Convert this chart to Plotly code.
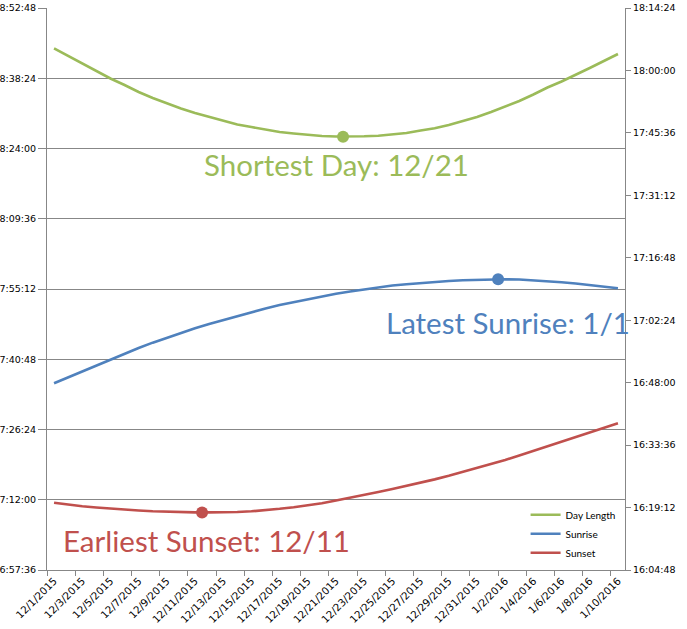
import pandas as pd
import plotly.graph_objects as go

# ---- data ----
dates = pd.date_range("2015-12-01", "2016-01-10", freq="D")

day_length = [
    "8:44:32", "8:42:58", "8:41:25", "8:39:53", "8:38:21", "8:37:01", "8:35:35", "8:34:21",
    "8:33:13", "8:32:12", "8:31:17", "8:30:27", "8:29:38", "8:28:55", "8:28:24", "8:27:54",
    "8:27:23", "8:27:04", "8:26:46", "8:26:33", "8:26:27", "8:26:25", "8:26:30", "8:26:37",
    "8:26:52", "8:27:11", "8:27:41", "8:28:08", "8:28:49", "8:29:34", "8:30:27", "8:31:29",
    "8:32:37", "8:33:44", "8:35:04", "8:36:30", "8:37:44", "8:39:04", "8:40:30", "8:41:56",
    "8:43:22",
]
sunrise = [
    "7:35:52", "7:37:04", "7:38:21", "7:39:31", "7:40:45", "7:41:59", "7:43:06", "7:44:12",
    "7:45:12", "7:46:11", "7:47:09", "7:48:02", "7:48:51", "7:49:40", "7:50:27", "7:51:12",
    "7:51:55", "7:52:32", "7:53:09", "7:53:44", "7:54:14", "7:54:41", "7:55:08", "7:55:37",
    "7:55:55", "7:56:11", "7:56:26", "7:56:41", "7:56:51", "7:56:59", "7:57:05", "7:57:10",
    "7:57:11", "7:57:08", "7:56:59", "7:56:48", "7:56:35", "7:56:20", "7:56:01", "7:55:42",
    "7:55:21",
]
sunset = [
    "16:20:19", "16:19:53", "16:19:29", "16:19:13", "16:18:56", "16:18:44", "16:18:31", "16:18:20",
    "16:18:12", "16:18:08", "16:18:05", "16:18:05", "16:18:06", "16:18:11", "16:18:20", "16:18:35",
    "16:18:55", "16:19:17", "16:19:43", "16:20:12", "16:20:50", "16:21:27", "16:22:06", "16:22:47",
    "16:23:29", "16:24:10", "16:24:55", "16:25:42", "16:26:31", "16:27:24", "16:28:17", "16:29:12",
    "16:30:10", "16:31:12", "16:32:15", "16:33:14", "16:34:16", "16:35:24", "16:36:26", "16:37:33",
    "16:38:38",
]

# highlighted points
shortest_day = ("2015-12-21 12:00", "8:26:25")
latest_sunrise = ("2016-01-01 12:00", "7:57:11")
earliest_sunset = ("2015-12-11 12:00", "16:18:05")

left_range = ("6:57:36", "8:52:48")
right_range = ("16:04:48", "18:14:24")
tick_step_ms = 14 * 60 * 1000 + 24 * 1000  # 14:24

GREEN = "#9BBB59"
BLUE = "#4F81BD"
RED = "#C0504D"
GRID = "#878787"
TICKFONT = dict(family="DejaVu Sans", size=9.5, color="#000000")
XTICKFONT = dict(family="DejaVu Sans", size=10.3, color="#000000")


def tt(s):
    return "1970-01-01 " + s.zfill(8)


fig = go.Figure()
fig.add_trace(go.Scatter(x=dates, y=[tt(v) for v in day_length], name="Day Length",
                         mode="lines", line=dict(color=GREEN, width=2.6), yaxis="y"))
fig.add_trace(go.Scatter(x=dates, y=[tt(v) for v in sunrise], name="Sunrise",
                         mode="lines", line=dict(color=BLUE, width=2.6), yaxis="y"))
fig.add_trace(go.Scatter(x=dates, y=[tt(v) for v in sunset], name="Sunset",
                         mode="lines", line=dict(color=RED, width=2.6), yaxis="y2"))

for (xd, yv), col, ax in [(shortest_day, GREEN, "y"), (latest_sunrise, BLUE, "y"),
                          (earliest_sunset, RED, "y2")]:
    fig.add_trace(go.Scatter(x=[xd], y=[tt(yv)], mode="markers", showlegend=False,
                             marker=dict(color=col, size=12, symbol="circle"), yaxis=ax))

fig.update_layout(
    width=687, height=629,
    margin=dict(l=47, r=62, t=8, b=59, autoexpand=False),
    paper_bgcolor="white", plot_bgcolor="white",
    showlegend=True,
    legend=dict(x=0.828, y=0.124, xanchor="left", yanchor="top",
                bgcolor="white", font=dict(family="Lato", size=10, color="#000"),
                tracegroupgap=0, itemwidth=30),
    xaxis=dict(
        type="date", automargin=False,
        range=["2015-11-30 12:00", "2016-01-10 12:00"],
        tickmode="linear", tick0="2015-12-01", dtick=2 * 86400000,
        tickformat="%-m/%-d/%Y", tickangle=-45, tickfont=XTICKFONT,
        ticks="", showgrid=False, showline=True, linecolor=GRID, linewidth=1,
        zeroline=False,
        minor=dict(tickmode="linear", tick0="2015-11-30 12:00", dtick=2 * 86400000,
                   ticks="outside", ticklen=5, tickcolor=GRID, showgrid=False),
    ),
    yaxis=dict(
        type="date", automargin=False,
        range=[tt(left_range[0]), tt(left_range[1])],
        tickmode="linear", tick0=tt(left_range[0]), dtick=tick_step_ms,
        tickformat="%-H:%M:%S", tickfont=TICKFONT,
        ticks="outside", ticklen=8, tickcolor=GRID,
        showgrid=True, gridcolor=GRID, gridwidth=1,
        showline=True, linecolor=GRID, linewidth=1, zeroline=False,
    ),
    yaxis2=dict(
        type="date", overlaying="y", side="right", automargin=False,
        range=[tt(right_range[0]), tt(right_range[1])],
        tickmode="linear", tick0=tt(right_range[0]), dtick=tick_step_ms,
        tickformat="%-H:%M:%S", tickfont=TICKFONT,
        ticks="outside", ticklen=5, tickcolor=GRID,
        showgrid=False, showline=True, linecolor=GRID, linewidth=1, zeroline=False,
    ),
)

ANN_FONT = "Lato"
for text, x, y, col in [("Shortest Day: 12/21", 0.5000, 0.721, GREEN),
                        ("Latest Sunrise: 1/1", 0.7976, 0.441, BLUE),
                        ("Earliest Sunset: 12/11", 0.2760, 0.052, RED)]:
    fig.add_annotation(text=text, xref="paper", yref="paper", x=x, y=y,
                       xanchor="center", yanchor="middle", showarrow=False,
                       font=dict(family=ANN_FONT, size=29.5, color=col))

fig.write_html("out.html")
